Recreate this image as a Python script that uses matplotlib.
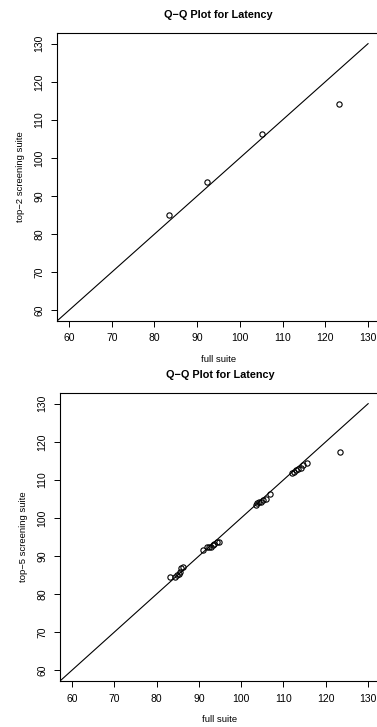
import matplotlib
matplotlib.use("Agg")
import matplotlib.pyplot as plt

plt.rcParams['font.family'] = ['Liberation Sans', 'DejaVu Sans']

# top-2 screening suite vs full suite quantiles
full_top2 = [83.3, 92.4, 105.1, 123.3]
screen_top2 = [84.9, 93.7, 106.4, 114.2]

# top-5 screening suite vs full suite quantiles
full_top5 = [83.3, 84.4, 84.9, 85.2, 85.5, 85.9, 86.2,
             91.1, 91.9, 92.4, 92.9, 93.3, 93.7, 94.2, 94.8,
             103.4, 103.8, 104.3, 104.7, 105.2, 105.8, 106.9,
             112.0, 112.6, 113.0, 113.5, 114.1, 114.6, 115.5,
             123.4]
screen_top5 = [84.4, 84.6, 84.9, 85.4, 85.8, 86.9, 87.1,
               91.5, 92.3, 92.4, 92.5, 93.0, 93.2, 93.6, 93.8,
               103.5, 103.8, 104.1, 104.3, 104.6, 105.0, 106.4,
               111.7, 112.1, 112.5, 112.8, 113.1, 114.0, 114.3,
               117.3]

ticks = [60, 70, 80, 90, 100, 110, 120, 130]
lims = (57.2, 132.8)
ref_line = [50, 130]

W, H = 377, 727
fig = plt.figure(figsize=(W / 100, H / 100), dpi=100)

panels = [
    ([57 / W, 1 - 321 / H, 323 / W, 288 / H], full_top2, screen_top2,
     "top\u22122 screening suite"),
    ([60 / W, 1 - 681 / H, 320 / W, 288 / H], full_top5, screen_top5,
     "top\u22125 screening suite"),
]

for rect, x, y, ylab in panels:
    ax = fig.add_axes(rect)
    ax.plot(ref_line, ref_line, color='black', lw=0.8)
    ax.plot(x, y, 'o', mfc='none', mec='black', ms=3.8, mew=0.8)
    ax.set_xlim(lims)
    ax.set_ylim(lims)
    ax.set_xticks(ticks)
    ax.set_yticks(ticks)
    ax.tick_params(direction='out', length=4, width=0.7, labelsize=7.5,
                   pad=5, colors='black')
    for lab in ax.get_yticklabels():
        lab.set_rotation(90)
        lab.set_va('center')
    for s in ax.spines.values():
        s.set_linewidth(0.8)
    ax.set_xlabel("full suite", fontsize=6.8, labelpad=8)
    ax.set_ylabel(ylab, fontsize=6.8, labelpad=7)
    ax.set_title("Q\u2212Q Plot for Latency", fontsize=7.8,
                 fontweight='bold', pad=11)

fig.savefig("out.png", dpi=100)
